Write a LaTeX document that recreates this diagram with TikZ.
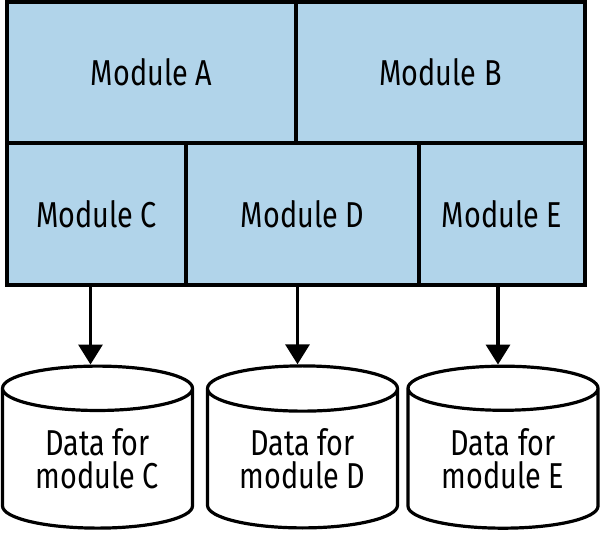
\documentclass[tikz,border=0pt]{standalone}
\usepackage{fontspec}
\setmainfont{Fira Sans}[FakeStretch=0.8]
\usetikzlibrary{shapes.geometric,arrows.meta}
\definecolor{modblue}{RGB}{177,212,234}

\begin{document}
\begin{tikzpicture}[x=1pt,y=-1pt,
  modbox/.style={draw=black,line width=3.5pt,fill=modblue,inner sep=0pt,
    font=\fontsize{36}{36}\selectfont},
  datastore/.style={cylinder,shape border rotate=90,draw=black,line width=3.2pt,
    fill=white,aspect=0.36,minimum width=190pt,minimum height=162pt,
    inner sep=0pt,align=center,font=\fontsize{36}{33}\selectfont},
  link/.style={line width=3.4pt,-{Triangle[length=20pt,width=24pt]}}]

\useasboundingbox (0,0) rectangle (601,535);

% modules, top row
\node[modbox,minimum width=289pt,minimum height=141pt] (ma) at (151.5,72.5) {Module A};
\node[modbox,minimum width=289pt,minimum height=141pt] (mb) at (440.5,72.5) {Module B};

% modules, bottom row
\node[modbox,minimum width=179pt,minimum height=142pt] (mc) at (96.5,214) {Module C};
\node[modbox,minimum width=233pt,minimum height=142pt] (md) at (302.5,214) {Module D};
\node[modbox,minimum width=166pt,minimum height=142pt] (me) at (502,214) {Module E};

% data stores
\node[datastore] (dc) at (97.5,459) {Data for\\module C};
\node[datastore] (dd) at (302.5,459) {Data for\\module D};
\node[datastore] (de) at (503,459) {Data for\\module E};

\draw[link] ([xshift=-6pt]mc.south) -- ([xshift=-6pt]mc.south |- dc.top);
\draw[link] ([xshift=-5pt]md.south) -- ([xshift=-5pt]md.south |- dd.top);
\draw[link] ([xshift=-4pt]me.south) -- ([xshift=-4pt]me.south |- de.top);

\end{tikzpicture}
\end{document}
